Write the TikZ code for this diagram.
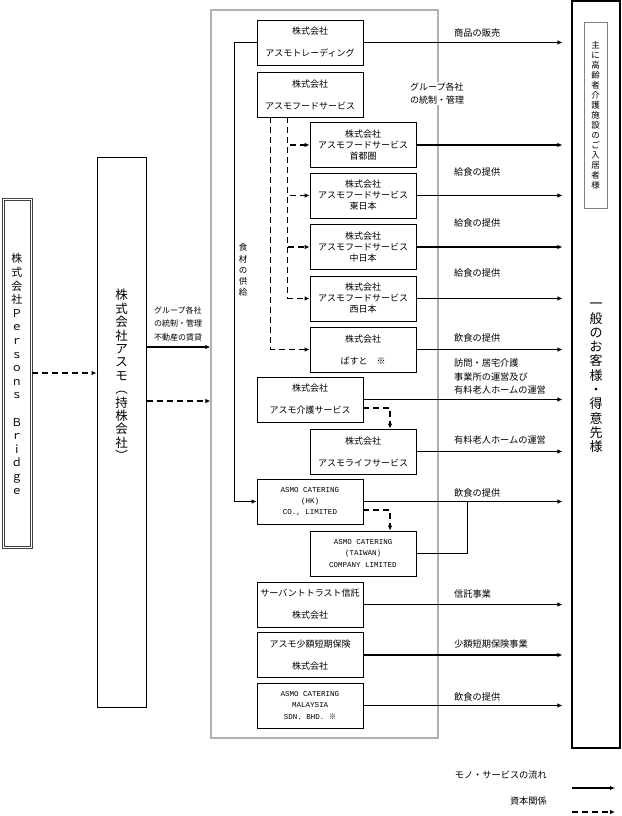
\documentclass[tikz,border=0pt]{standalone}
\usepackage{fontspec}
\setmainfont{Noto Sans CJK JP}
\newfontfamily\latinmono{Liberation Mono}
\newfontfamily\jpfont{Noto Sans CJK JP}
\usetikzlibrary{arrows.meta, positioning, calc}

\begin{document}
\begin{tikzpicture}[x=1pt, y=-1pt,
    cobox/.style={draw, line width=0.8pt, minimum width=106pt, minimum height=45pt, inner sep=1pt, align=center, font=\fontsize{9}{11}\selectfont},
    twoline/.style={cobox, font=\fontsize{9}{22}\selectfont},
    engbox/.style={cobox, font=\latinmono\fontsize{7.5}{11.3}\selectfont},
    flow/.style={-{Latex[length=5pt, width=4.5pt]}, line width=1.3pt},
    capital/.style={flow, dash pattern=on 6pt off 4pt},
    lbl/.style={font=\fontsize{9.2}{13.5}\selectfont, anchor=west, align=left, inner sep=1pt},
    vtext/.style={align=center, inner sep=0pt},
]
    \useasboundingbox (0,0) rectangle (621,816);

    % Grey frame around the group companies
    \node[draw=gray!60, line width=1.2pt, minimum width=227pt, minimum height=728pt] (group) at (324.5,374) {};

    % Parent companies (left)
    \node[draw=black!75, line width=0.7pt, minimum width=30pt, minimum height=350pt] (pb) at (17,373) {};
    \draw[black!75, line width=0.7pt] ([shift={(2.2pt,-2.2pt)}]pb.north west) rectangle ([shift={(-2.2pt,2.2pt)}]pb.south east);
    \node[vtext, font=\fontsize{11}{13.6}\selectfont] (pbtxt) at (17,374) {株\\式\\会\\社\\Ｐ\\ｅ\\ｒ\\ｓ\\ｏ\\ｎ\\ｓ\\　\\Ｂ\\ｒ\\ｉ\\ｄ\\ｇ\\ｅ};

    \node[draw, line width=1pt, minimum width=49pt, minimum height=550pt] (hold) at (121.5,432) {};
    \node[vtext, font=\fontsize{12.5}{13.4}\selectfont] (holdtxt) at (121.5,375) {株\\式\\会\\社\\ア\\ス\\モ\\︵\\持\\株\\会\\社\\︶};

    \draw[capital] (pb.east) -- (pb.east -| hold.west);
    \draw[flow] ([yshift=85pt]hold.east) -- ([yshift=85pt]hold.east -| group.west);
    \draw[capital] ([yshift=31pt]hold.east) -- ([yshift=31pt]hold.east -| group.west);
    \node[lbl, anchor=center, align=left, font=\fontsize{8}{13.5}\selectfont] (holdlbl) at (178,323.5) {グループ各社\\の統制・管理\\不動産の賃貸};

    % Group companies
    \node[twoline] (trading) at (310,42.5) {株式会社\\アスモトレーディング};
    \node[twoline] (food) at (310,94.5) {株式会社\\アスモフードサービス};
    \node[cobox] (shuto) at (363,145) {株式会社\\アスモフードサービス\\首都圏};
    \node[cobox] (higashi) at (363,195.5) {株式会社\\アスモフードサービス\\東日本};
    \node[cobox] (naka) at (363,247) {株式会社\\アスモフードサービス\\中日本};
    \node[cobox] (nishi) at (363,298.5) {株式会社\\アスモフードサービス\\西日本};
    \node[twoline] (pasuto) at (363,349.5) {株式会社\\ぱすと　※};
    \node[twoline] (kaigo) at (310,399.5) {株式会社\\アスモ介護サービス};
    \node[twoline] (life) at (363,451.5) {株式会社\\アスモライフサービス};
    \node[engbox] (hk) at (310,501.5) {ASMO CATERING\\(HK)\\CO., LIMITED};
    \node[engbox] (taiwan) at (363,553.5) {ASMO CATERING\\(TAIWAN)\\COMPANY LIMITED};
    \node[twoline] (trust) at (310,604.5) {サーバントトラスト信託\\株式会社};
    \node[twoline] (ins) at (310,655) {アスモ少額短期保険\\株式会社};
    \node[engbox] (malay) at (310,705.5) {ASMO CATERING\\MALAYSIA\\SDN. BHD. {\jpfont ※}};

    % Capital relations inside the group
    \foreach \n in {shuto,higashi,naka,nishi}
        \draw[capital] ([xshift=31pt]food.south west) |- (\n.west);
    \draw[capital] ([xshift=14pt]food.south west) |- (pasuto.west);
    \draw[capital] ([yshift=-8.5pt]kaigo.east) -| ([xshift=27pt]life.north);
    \draw[capital] ([yshift=-8.5pt]hk.east) -| ([xshift=27pt]taiwan.north);

    % Food supply
    \draw[flow] (trading.west) -- ++(-22pt,0) |- (hk.west);
    \node[vtext, font=\fontsize{8.5}{11.2}\selectfont] (shokuzai) at (243,270) {食\\材\\の\\供\\給};

    % Customers (right)
    \node[draw, line width=1.2pt, minimum width=48pt, minimum height=747pt] (cust) at (596,374.5) {};
    \node[draw=gray, line width=1pt, minimum width=23pt, minimum height=185pt, vtext, font=\fontsize{8.5}{10}\selectfont] (elder) at (595.5,115.5) {主\\に\\高\\齢\\者\\介\\護\\施\\設\\の\\ご\\入\\居\\者\\様};
    \node[vtext, font=\fontsize{13}{14.3}\selectfont] (custtxt) at (596,378) {一\\般\\の\\お\\客\\様\\・\\得\\意\\先\\様};

    % Goods and services
    \foreach \n in {trading,shuto,higashi,naka,nishi,pasuto,kaigo,life,hk,trust,ins,malay}
        \draw[flow] (\n.east) -- ([xshift=-9pt]\n.east -| cust.west);
    \draw[line width=1.3pt] (taiwan.east) -| ([xshift=51pt]taiwan.east |- hk.east);

    \node[lbl] (l1) at (453,33) {商品の販売};
    \node[lbl, fill=white, font=\fontsize{9}{13}\selectfont] (l2) at (409,93.5) {グループ各社\\の統制・管理};
    \node[lbl] (l3) at (453,172) {給食の提供};
    \node[lbl] (l4) at (453,223) {給食の提供};
    \node[lbl] (l5) at (453,273) {給食の提供};
    \node[lbl] (l6) at (453,338) {飲食の提供};
    \node[lbl] (l7) at (453,376.5) {訪問・居宅介護\\事業所の運営及び\\有料老人ホームの運営};
    \node[lbl] (l8) at (453,440) {有料老人ホームの運営};
    \node[lbl] (l9) at (453,493) {飲食の提供};
    \node[lbl] (l10) at (453,594) {信託事業};
    \node[lbl] (l11) at (453,644) {少額短期保険事業};
    \node[lbl] (l12) at (453,697) {飲食の提供};

    % Legend
    \node[lbl, anchor=east] (lgflow) at (548,775) {モノ・サービスの流れ};
    \node[lbl, anchor=east] (lgcap) at (548,801) {資本関係};
    \coordinate (lgf1) at (572,788);
    \coordinate (lgf2) at (615,788);
    \coordinate (lgc1) at (572,812);
    \coordinate (lgc2) at (615,812);
    \draw[flow] (lgf1) -- (lgf2);
    \draw[capital] (lgc1) -- (lgc2);

\end{tikzpicture}
\end{document}
